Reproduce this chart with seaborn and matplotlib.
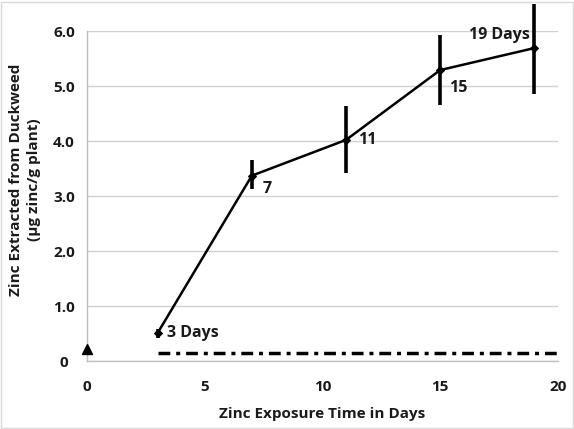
import numpy as np
import pandas as pd
import matplotlib
matplotlib.use("Agg")
import matplotlib.pyplot as plt
import seaborn as sns

# values
days = [3, 7, 11, 15, 19]
zinc = [0.51, 3.37, 4.02, 5.29, 5.69]
err_lo = [0.42, 3.13, 3.42, 4.65, 4.85]
err_hi = [0.58, 3.65, 4.64, 5.93, 6.50]
point_labels = ["3 Days", "7", "11", "15", "19 Days"]

control_day = [0]
control_zinc = [0.21]
baseline_days = [3, 20]
baseline_zinc = [0.15, 0.15]

xticks = [0, 5, 10, 15, 20]
yticks = [0, 1, 2, 3, 4, 5, 6]
ytick_labels = ["0", "1.0", "2.0", "3.0", "4.0", "5.0", "6.0"]

sns.set_style("white")
plt.rcParams['font.family'] = ['Open Sans', 'DejaVu Sans']

df = pd.DataFrame({"day": days, "zinc": zinc})
txt = "#1a1a1a"

fig = plt.figure(figsize=(5.74, 4.29), dpi=100)
ax = fig.add_axes([0.1516, 0.1585, 0.8204, 0.7692])

# faint chart border like the spreadsheet export
fig.patches.append(plt.Rectangle((0.002, 0.002), 0.996, 0.994, transform=fig.transFigure,
                                 fill=False, edgecolor="#d9d9d9", linewidth=1))

# error bars
yerr = np.array([np.array(zinc) - np.array(err_lo), np.array(err_hi) - np.array(zinc)])
ax.errorbar(days, zinc, yerr=yerr, fmt="none", ecolor="black", elinewidth=2.6,
            capsize=0, clip_on=False, zorder=3)

sns.lineplot(data=df, x="day", y="zinc", ax=ax, color="black", linewidth=1.8,
             marker="D", markersize=4.5, markeredgecolor="black", zorder=4)

# control point and baseline
ax.plot(control_day, control_zinc, marker="^", color="black", markersize=7,
        linestyle="none", clip_on=False, zorder=4)
ax.plot(baseline_days, baseline_zinc, color="black", linewidth=2.5,
        dashes=(3.4, 1.7, 1.15, 1.7), zorder=3)

offsets = [(7, 0), (8, -9.5), (8.5, 0), (6, -13), (-3, 9.5)]
for d, z, lab, off in zip(days, zinc, point_labels, offsets):
    ax.annotate(lab, (d, z), xytext=off, textcoords="offset points",
                ha="left" if off[0] > 0 else "right", va="center",
                fontsize=11.5, fontweight="bold", color=txt)

ax.set_xlim(0, 20)
ax.set_ylim(0, 6)
ax.set_xticks(xticks)
ax.set_yticks(yticks)
ax.set_yticklabels(ytick_labels)
ax.tick_params(axis="both", length=0, labelsize=11, colors=txt)
ax.tick_params(axis="x", pad=14)
ax.tick_params(axis="y", pad=16.5)
for t in ax.get_xticklabels() + ax.get_yticklabels():
    t.set_fontweight("bold")
for t in ax.get_yticklabels():
    t.set_horizontalalignment("center")

ax.grid(axis="y", color="#d0d0d0", linewidth=1)
ax.set_axisbelow(True)
for side in ["top", "right"]:
    ax.spines[side].set_visible(False)
for side in ["left", "bottom"]:
    ax.spines[side].set_color("#bfbfbf")
    ax.spines[side].set_linewidth(1)

ax.set_xlabel("Zinc Exposure Time in Days", fontsize=11, fontweight="bold", color=txt)
ax.xaxis.set_label_coords(0.5, -0.138)
ax.set_ylabel("Zinc Extracted from Duckweed\n(\u00b5g zinc/g plant)", fontsize=11,
              fontweight="bold", color=txt, linespacing=1.35)
ax.yaxis.set_label_coords(-0.097, 0.548)

fig.savefig("out.png", dpi=100, facecolor="white")
